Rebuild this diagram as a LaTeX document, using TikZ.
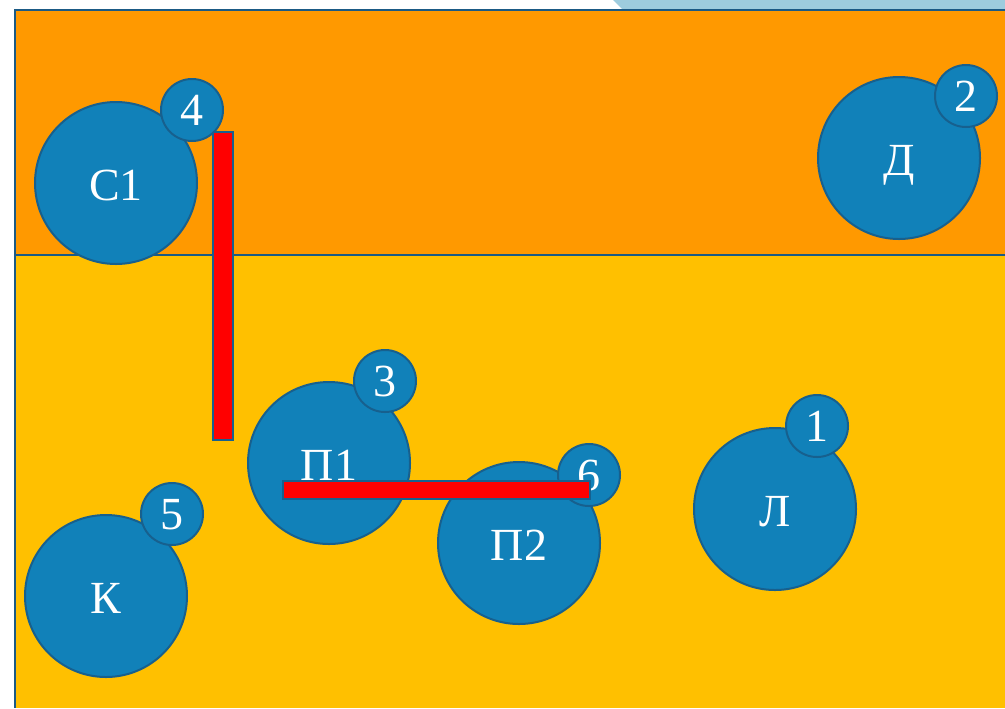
\documentclass[tikz,border=0pt]{standalone}
\usepackage{fontspec}
\setmainfont{Liberation Serif}
\definecolor{orangebg}{HTML}{FF9900}
\definecolor{yellowbg}{HTML}{FFC000}
\definecolor{circfill}{HTML}{1181B9}
\definecolor{circline}{HTML}{17608E}
\definecolor{frameline}{HTML}{1B5A85}
\definecolor{topbar}{HTML}{9DCCDE}
\definecolor{barred}{HTML}{FF0000}
\tikzset{
  bigcirc/.style={circle, fill=circfill, draw=circline, line width=1.5pt, minimum size=121.5pt, inner sep=0pt, text=white, text depth=0pt, font=\fontsize{34.5}{40}\selectfont},
  badge/.style={circle, fill=circfill, draw=circline, line width=1.5pt, minimum size=46.5pt, inner sep=0pt, text=white, text depth=0pt, font=\fontsize{34.5}{40}\selectfont},
  lbl/.style={text=white, inner sep=0pt, text depth=0pt, font=\fontsize{34.5}{40}\selectfont},
  redbar/.style={fill=barred, draw=circline, line width=1pt},
  frame/.style={draw=frameline, line width=2pt}
}
\begin{document}
\begin{tikzpicture}[x=0.75pt,y=-0.75pt]
\useasboundingbox (0,0) rectangle (1005,708);
\fill[white] (0,0) rectangle (1005,708);
% top light blue strip
\fill[topbar] (613,0) -- (1005,0) -- (1005,9) -- (622,9) -- cycle;
% background panels
\fill[orangebg] (15,10) rectangle (1005,255);
\fill[yellowbg] (15,255) rectangle (1005,708);
\draw[frame] (1005,10) -- (15,10) -- (15,708);
\draw[frame] (15,255) -- (1005,255);
% big circles
\node[bigcirc] (c1) at (116,183) {};
\node[bigcirc] (d) at (899,158) {};
\node[bigcirc] (p1) at (329,463) {};
\node[bigcirc] (p2) at (519,543) {};
\node[bigcirc] (l) at (775,509) {};
\node[bigcirc] (k) at (106,596) {};
\node[lbl] (c1t) at ([yshift=-1.5pt]c1.center) {С1};
\node[lbl] (dt) at ([yshift=-1.5pt]d.center) {Д};
\node[lbl] (p1t) at ([yshift=-1.5pt]p1.center) {П1};
\node[lbl] (p2t) at ([yshift=-1.5pt]p2.center) {П2};
\node[lbl] (lt) at ([yshift=-1.5pt]l.center) {Л};
\node[lbl] (kt) at ([yshift=-1.5pt]k.center) {К};
% vertical red bar
\draw[redbar] (213,132) rectangle (233,440);
% badges
\node[badge] (b4) at (192,110) {4};
\node[badge] (b2) at (966,96) {2};
\node[badge] (b3) at (385,381) {3};
\node[badge] (b6) at (589,475) {6};
\node[badge] (b1) at (817,426) {1};
\node[badge] (b5) at (172,514) {5};
% horizontal red bar
\draw[redbar] (283,481) rectangle (590,499);
\end{tikzpicture}
\end{document}
